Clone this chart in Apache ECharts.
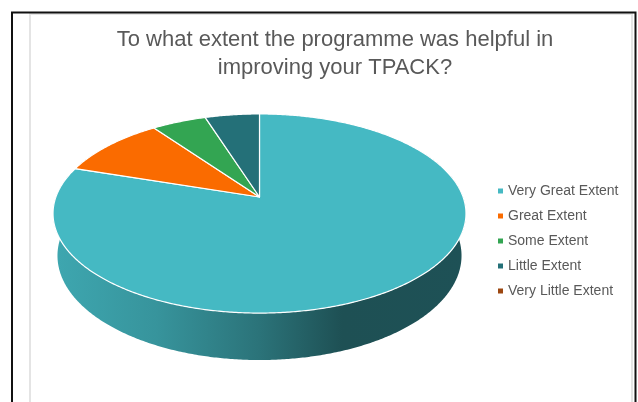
<!DOCTYPE html>
<html>
<head>
<meta charset="utf-8">
<script src="https://cdn.jsdelivr.net/npm/echarts@6/dist/echarts.min.js"></script>
<style>
  html, body { margin: 0; padding: 0; background: #fff; }
  #chart { width: 638px; height: 402px; }
</style>
</head>
<body>
<div id="chart"></div>
<script>
// Survey responses
const categories = ['Very Great Extent', 'Great Extent', 'Some Extent', 'Little Extent', 'Very Little Extent'];
const responses = [16, 2, 1, 1, 0];
const sliceColors = ['#45b9c3', '#fa6b00', '#33a552', '#247078', '#9c4710'];
const titleLines = ['To what extent the programme was helpful in', 'improving your TPACK?'];

const FONT = '"Liberation Sans", Arial, Helvetica, sans-serif';

// 3D disc geometry (perspective view of a tilted cylinder)
const CX = 259.5, CY = 197;      // projected centre of the top face
const S = 203.6;                 // horizontal half-size at the centre line
const TILT = 28.4 * Math.PI / 180;
const SIN_A = Math.sin(TILT), COS_A = Math.cos(TILT);
const RD = 0.1886;               // radius / camera distance
const THICK = 0.238;             // thickness / radius

function project(phi, w) {
  const u = Math.cos(phi), v = Math.sin(phi);
  const d = 1 - RD * (v * COS_A + w * SIN_A);
  return [CX + S * u / d, CY + S * (v * SIN_A - w * COS_A) / d];
}

const total = responses.reduce((a, b) => a + b, 0);
const starts = [];
let acc = 0;
responses.forEach(v => { starts.push(acc); acc += v; });

function shade(hex, f) {
  const n = parseInt(hex.slice(1), 16);
  const r = Math.round(((n >> 16) & 255) * f);
  const g = Math.round(((n >> 8) & 255) * f);
  const b = Math.round((n & 255) * f);
  return 'rgb(' + r + ',' + g + ',' + b + ')';
}

function arcPoints(a, b, w) {
  const pts = [];
  const steps = Math.max(2, Math.ceil((b - a) / (Math.PI / 360)));
  for (let s = 0; s <= steps; s++) pts.push(project(a + (b - a) * s / steps, w));
  return pts;
}

function makeRenderer(i) {
  return function (params, api) {
    const value = api.value(0);
    if (!value) return { type: 'group', children: [] };
    // clockwise from 12 o'clock
    const t0 = starts[i] / total * 2 * Math.PI;
    const t1 = (starts[i] + value) / total * 2 * Math.PI;
    const p0 = t0 - Math.PI / 2, p1 = t1 - Math.PI / 2;
    const children = [];

    // outer wall, only the part facing the viewer
    const wa = Math.max(p0, -Math.PI / 6), wb = Math.min(p1, Math.PI * 7 / 6);
    if (wb > wa) {
      const top = arcPoints(wa, wb, 0);
      const bottom = arcPoints(wa, wb, -THICK).reverse();
      const c = sliceColors[i];
      children.push({
        type: 'polygon',
        z2: 1,
        shape: { points: top.concat(bottom) },
        style: {
          fill: {
            type: 'linear', global: true,
            x: CX - S * 1.014, y: 0, x2: CX + S * 1.014, y2: 0,
            colorStops: [
              { offset: 0, color: shade(c, 0.9) },
              { offset: 0.25, color: shade(c, 0.8) },
              { offset: 0.5, color: shade(c, 0.62) },
              { offset: 0.7, color: shade(c, 0.43) },
              { offset: 1, color: shade(c, 0.44) }
            ]
          },
          stroke: null
        }
      });
    }

    // top face
    const face = [[CX, CY]].concat(arcPoints(p0, p1, 0));
    children.push({
      type: 'polygon',
      z2: 10,
      shape: { points: face },
      style: { fill: sliceColors[i], stroke: '#ffffff', lineWidth: 1.2, lineJoin: 'round' }
    });
    return { type: 'group', children: children };
  };
}

const series = categories.map((name, i) => ({
  type: 'custom',
  name: name,
  coordinateSystem: 'none',
  itemStyle: { color: sliceColors[i] },
  renderItem: makeRenderer(i),
  data: [[responses[i]]],
  silent: true
}));

const chart = echarts.init(document.getElementById('chart'), null, { renderer: 'canvas' });
chart.setOption({
  animation: false,
  backgroundColor: '#ffffff',
  title: {
    text: titleLines.join('\n'),
    left: 330,
    top: 21,
    textAlign: 'center',
    textStyle: { color: '#595959', fontSize: 22, fontWeight: 'normal', fontFamily: FONT, lineHeight: 28 }
  },
  legend: {
    orient: 'vertical',
    left: 493,
    top: 178,
    icon: 'rect',
    itemWidth: 5,
    itemHeight: 5,
    itemGap: 9,
    data: categories,
    textStyle: { color: '#595959', fontSize: 14, fontFamily: FONT, lineHeight: 16 }
  },
  graphic: [
    {
      type: 'rect', silent: true, z: -1,
      shape: { x: 30, y: 14, width: 602, height: 400 },
      style: { fill: null, stroke: '#e4e4e4', lineWidth: 2 }
    },
    {
      type: 'rect', silent: true,
      shape: { x: 12, y: 12.5, width: 623.5, height: 400 },
      style: { fill: null, stroke: '#111111', lineWidth: 2 }
    }
  ],
  series: series
});
</script>
</body>
</html>
